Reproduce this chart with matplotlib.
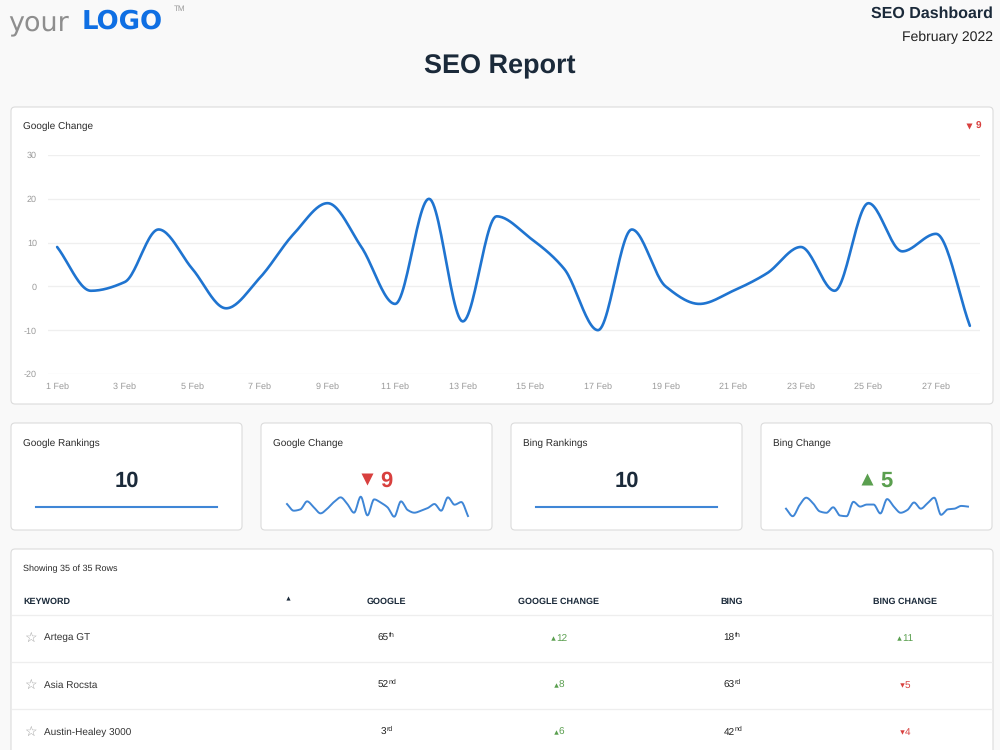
import numpy as np
import matplotlib
matplotlib.use("Agg")
import matplotlib.pyplot as plt
from matplotlib.patches import FancyBboxPatch

plt.rcParams['font.family'] = ['Liberation Sans', 'DejaVu Sans']
plt.rcParams['axes.unicode_minus'] = False
plt.rcParams['text.hinting'] = 'no_hinting'
plt.rcParams['text.hinting_factor'] = 1

# ---------------- data ----------------
days = list(range(1, 29))
day_labels = [f"{d} Feb" for d in range(1, 28, 2)]
google_change = [9, -1, 1, 13, 4, -5, 2, 12, 19, 9, -4, 20, -8, 16,
                 11, 4, -10, 13, 0, -4, -1, 3, 9, -1, 19, 8, 12, -9]
bing_change = [2, -9, 7, 18, 10, -2, -4, 4, -8, -9, 12, 5, 8, 8,
               -5, 16, 5, -4, 0, 11, 2, 10, 18, -7, 1, 2, 6, 5]
google_rankings = [10] * 28
bing_rankings = [10] * 28
y_ticks = [-20, -10, 0, 10, 20, 30]

kpi_titles = ["Google Rankings", "Google Change", "Bing Rankings", "Bing Change"]
kpi_values = [10, -9, 10, 5]

keywords = ["Artega GT", "Asia Rocsta", "Austin-Healey 3000"]
google_rank = [65, 52, 3]
google_delta = [12, 8, 6]
bing_rank = [18, 63, 42]
bing_delta = [11, -5, -4]
table_headers = ["KEYWORD", "GOOGLE", "GOOGLE CHANGE", "BING", "BING CHANGE"]

# ---------------- style ----------------
W, H = 1000, 750
BG = "#f9f9f9"
NAVY = "#1b2a3a"
BLUE = "#1f74d0"
SPARK = "#3f86d6"
RED = "#d8403e"
GREEN = "#5a9f4f"
GRID = "#efefef"
BORDER = "#dcdcdc"

fig = plt.figure(figsize=(10, 7.5), dpi=100, facecolor=BG)
bg = fig.add_axes([0, 0, 1, 1], zorder=0)
bg.set_xlim(0, W)
bg.set_ylim(H, 0)
bg.axis("off")
bg.set_facecolor(BG)


def px_axes(x0, y0, x1, y1, z=2):
    ax = fig.add_axes([x0 / W, 1 - y1 / H, (x1 - x0) / W, (y1 - y0) / H], zorder=z)
    ax.patch.set_alpha(0)
    return ax


def card(x0, y0, x1, y1):
    bg.add_patch(FancyBboxPatch((x0, y0), x1 - x0, y1 - y0,
                                boxstyle="round,pad=0,rounding_size=4",
                                fc="white", ec=BORDER, lw=0.8))


def monotone(x, y, n=25):
    x = np.asarray(x, float)
    y = np.asarray(y, float)
    h = np.diff(x)
    d = np.diff(y) / h
    m = np.zeros_like(y)
    m[0], m[-1] = d[0], d[-1]
    for i in range(1, len(y) - 1):
        if d[i - 1] * d[i] <= 0:
            m[i] = 0
        else:
            w1 = 2 * h[i] + h[i - 1]
            w2 = h[i] + 2 * h[i - 1]
            m[i] = (w1 + w2) / (w1 / d[i - 1] + w2 / d[i])
    xs, ys = [], []
    for i in range(len(x) - 1):
        t = np.linspace(0, 1, n, endpoint=False)
        h00 = 2 * t**3 - 3 * t**2 + 1
        h10 = t**3 - 2 * t**2 + t
        h01 = -2 * t**3 + 3 * t**2
        h11 = t**3 - t**2
        xs.append(x[i] + t * h[i])
        ys.append(h00 * y[i] + h10 * h[i] * m[i] + h01 * y[i + 1] + h11 * h[i] * m[i + 1])
    xs.append([x[-1]])
    ys.append([y[-1]])
    return np.concatenate(xs), np.concatenate(ys)


def ordinal(n):
    if 10 <= n % 100 <= 20:
        return "th"
    return {1: "st", 2: "nd", 3: "rd"}.get(n % 10, "th")


# ---------------- header ----------------
bg.text(8, 30, "your", fontsize=19.5, color="#8e8e8e", family=["DejaVu Sans"],
        va="baseline", ha="left")
bg.text(82, 29, "LOGO", fontsize=18.5, color="#0f6fe3", family=["DejaVu Sans"],
        fontweight="bold", va="baseline", ha="left")
bg.text(174, 11, "TM", fontsize=5.5, color="#9a9a9a", va="baseline", ha="left")
bg.text(993, 18, "SEO Dashboard", fontsize=11.5, fontweight="bold", color=NAVY,
        ha="right", va="baseline")
bg.text(993, 41, "February 2022", fontsize=10, color="#222222", ha="right", va="baseline")
bg.text(500, 73, "SEO Report", fontsize=19.5, fontweight="bold", color=NAVY,
        ha="center", va="baseline")

# ---------------- main chart ----------------
card(11, 107, 993, 404)
bg.text(23, 129, "Google Change", fontsize=7.5, color="#2b2b2b", va="baseline")
bg.plot([968.5], [125.5], marker="v", ms=4, color=RED, mec="none")
bg.text(981, 129, str(abs(google_change[-1])), fontsize=7.5, color=RED,
        fontweight="bold", ha="right", va="baseline")

ax = px_axes(48, 155, 980, 374)
sx, sy = monotone(days, google_change)
ax.plot(sx, sy, color=BLUE, lw=1.9, solid_capstyle="round", clip_on=False)
ax.set_xlim(0.73, 28.3)
ax.set_ylim(-20, 30)
ax.set_yticks(y_ticks)
ax.set_xticks(list(range(1, 28, 2)))
ax.set_xticklabels(day_labels)
ax.grid(axis="y", color=GRID, lw=0.9)
ax.set_axisbelow(True)
for s in ax.spines.values():
    s.set_visible(False)
ax.tick_params(length=0, labelsize=6.5, labelcolor="#9a9a9a")
ax.tick_params(axis="y", pad=8)
ax.tick_params(axis="x", pad=6)

# ---------------- KPI cards ----------------
card_x = [(11, 242), (261, 492), (511, 742), (761, 992)]
for (x0, x1), title, val in zip(card_x, kpi_titles, kpi_values):
    card(x0, 423, x1, 530)
    bg.text(x0 + 12, 446, title, fontsize=7.5, color="#2b2b2b", va="baseline")
    cx = (x0 + x1) / 2
    if "Change" in title:
        col = RED if val < 0 else GREEN
        bg.plot([cx - 9.5], [478.5], marker="v" if val < 0 else "^", ms=9,
                color=col, mec="none")
        bg.text(cx + 3.5, 486.5, str(abs(val)), fontsize=15.5, fontweight="bold",
                color=col, ha="left", va="baseline")
    else:
        bg.text(cx, 486.5, str(val), fontsize=15.5, fontweight="bold", color=NAVY,
                ha="center", va="baseline")

# flat ranking sparklines
for (x0, x1), series in [((36, 217), google_rankings), ((536, 717), bing_rankings)]:
    a = px_axes(x0, 497, x1, 517)
    a.plot(days, series, color=SPARK, lw=1.5, clip_on=False)
    a.set_xlim(1, 28)
    a.set_ylim(9, 11)
    a.axis("off")

# change sparklines
a = px_axes(287, 496.7, 468, 516.7)
sx, sy = monotone(days, google_change, 12)
a.plot(sx, sy, color=SPARK, lw=1.4, clip_on=False)
a.set_xlim(1, 28)
a.set_ylim(-10, 20)
a.axis("off")

a = px_axes(786, 497.7, 968, 516.2)
sx, sy = monotone(days, bing_change, 12)
a.plot(sx, sy, color=SPARK, lw=1.4, clip_on=False)
a.set_xlim(1, 28)
a.set_ylim(-9, 18)
a.axis("off")

# ---------------- table ----------------
card(11, 549, 993, 770)
bg.text(23, 571, "Showing 35 of 35 Rows", fontsize=6.6, color="#2b2b2b", va="baseline")
col_x = [23, 386, 559, 732, 905]
for i, (hdr, x) in enumerate(zip(table_headers, col_x)):
    bg.text(x, 604, hdr, fontsize=6.6, fontweight="bold", color=NAVY,
            ha="left" if i == 0 else "center", va="baseline")
bg.plot([288], [597.5], marker="^", ms=3, color=NAVY, mec="none")

for yline in [615, 662, 709]:
    bg.plot([12, 992], [yline, yline], color="#eeeeee", lw=0.9)


def rank_text(x, y, n):
    base = str(n)
    base_w = 5.6 * len(base)
    sup_w = 6.0
    left = x - (base_w + sup_w) / 2
    bg.text(left + base_w, y, base, fontsize=7.2, color="#222222", ha="right", va="baseline")
    bg.text(left + base_w + 0.3, y - 4.5, ordinal(n), fontsize=5, color="#222222",
            ha="left", va="baseline")


def delta_text(x, y, v):
    col = GREEN if v >= 0 else RED
    s = str(abs(v))
    num_w = 5.6 * len(s)
    tri_w = 5.5
    left = x - (num_w + tri_w) / 2
    bg.plot([left + 2.5], [y - 3.2], marker="^" if v >= 0 else "v", ms=3.2,
            color=col, mec="none")
    bg.text(left + tri_w, y, s, fontsize=7.2, color=col, ha="left", va="baseline")


for r, kw in enumerate(keywords):
    y = 641 + 47 * r
    bg.text(30, y + 1, "\u2606", fontsize=10, color="#9a9a9a", ha="center",
            va="baseline", family=["DejaVu Sans"])
    bg.text(44, y, kw, fontsize=7.5, color="#333333", ha="left", va="baseline")
    rank_text(col_x[1], y, google_rank[r])
    delta_text(col_x[2], y, google_delta[r])
    rank_text(col_x[3], y, bing_rank[r])
    delta_text(col_x[4], y, bing_delta[r])

fig.savefig("out.png", dpi=100, facecolor=BG)
